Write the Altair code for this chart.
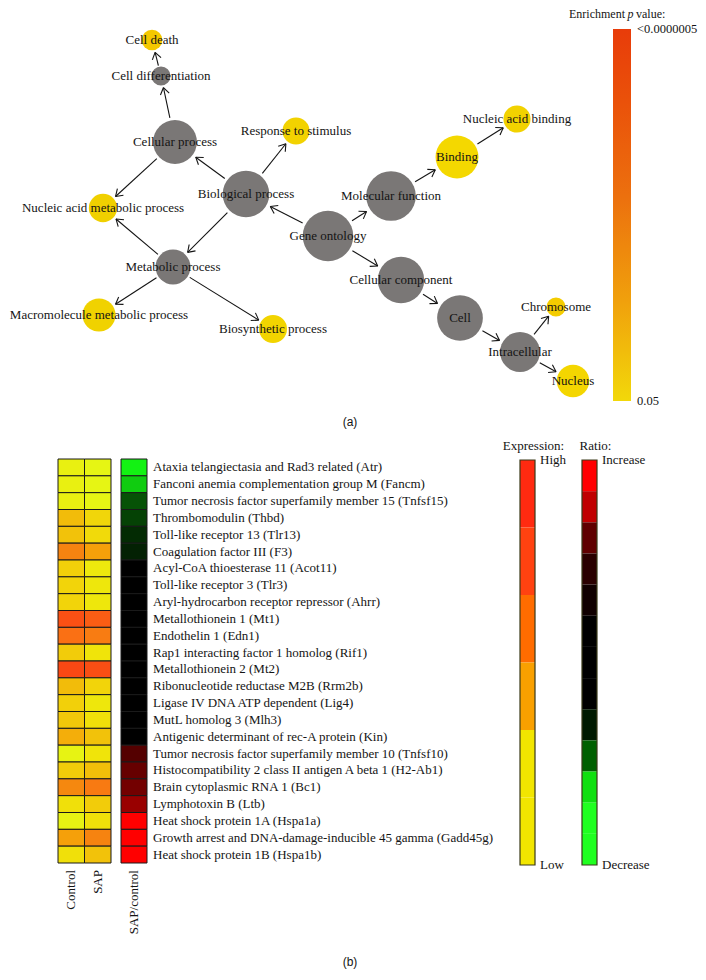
import math
import altair as alt
import pandas as pd

SERIF = "Liberation Serif"
INK = "#141414"

# ---------------- (a) GO network data ----------------
node_names = ["Gene ontology", "Biological process", "Molecular function", "Cellular component",
              "Cellular process", "Response to stimulus", "Metabolic process", "Cell differentiation",
              "Cell death", "Nucleic acid metabolic process", "Macromolecule metabolic process",
              "Biosynthetic process", "Binding", "Nucleic acid binding", "Cell", "Intracellular",
              "Chromosome", "Nucleus"]
node_x = [328, 246, 391, 401, 175, 296, 173, 161, 152, 103, 99, 273, 457, 517, 460, 520, 556, 573]
node_y = [236, 194, 196, 280, 142, 131, 267, 76, 40, 208, 315, 329, 157, 119, 318, 352, 307, 381]
node_r = [28.5, 26.3, 28, 26.2, 24.7, 15.3, 19.7, 10.8, 11.7, 16, 18.7, 15.8, 24.2, 15.3, 25.8, 22.5, 10.8, 18.3]
node_fill = ["#7a7776", "#7a7776", "#7a7776", "#7a7776", "#7a7776", "#f2d200", "#7a7776", "#7a7776",
             "#f4c800", "#f0d000", "#f0d200", "#f2d400", "#f4d800", "#f2d200", "#7a7776", "#7a7776",
             "#f4cc00", "#f4d600"]
edges = [("Gene ontology", "Biological process"), ("Gene ontology", "Molecular function"),
         ("Gene ontology", "Cellular component"), ("Biological process", "Cellular process"),
         ("Biological process", "Response to stimulus"), ("Biological process", "Metabolic process"),
         ("Cellular process", "Cell differentiation"), ("Cell differentiation", "Cell death"),
         ("Cellular process", "Nucleic acid metabolic process"),
         ("Metabolic process", "Nucleic acid metabolic process"),
         ("Metabolic process", "Macromolecule metabolic process"),
         ("Metabolic process", "Biosynthetic process"), ("Molecular function", "Binding"),
         ("Binding", "Nucleic acid binding"), ("Cellular component", "Cell"),
         ("Cell", "Intracellular"), ("Intracellular", "Chromosome"), ("Intracellular", "Nucleus")]
panel_text = ["(a)", "(b)"]
panel_x = [350, 350]
panel_y = [422, 962]

# p-value legend
p_ends = [5e-7, 0.05]
p_labels = ["<0.0000005", "0.05"]

# ---------------- (b) heatmap data ----------------
genes = ["Ataxia telangiectasia and Rad3 related (Atr)",
         "Fanconi anemia complementation group M (Fancm)",
         "Tumor necrosis factor superfamily member 15 (Tnfsf15)",
         "Thrombomodulin (Thbd)",
         "Toll-like receptor 13 (Tlr13)",
         "Coagulation factor III (F3)",
         "Acyl-CoA thioesterase 11 (Acot11)",
         "Toll-like receptor 3 (Tlr3)",
         "Aryl-hydrocarbon receptor repressor (Ahrr)",
         "Metallothionein 1 (Mt1)",
         "Endothelin 1 (Edn1)",
         "Rap1 interacting factor 1 homolog (Rif1)",
         "Metallothionein 2 (Mt2)",
         "Ribonucleotide reductase M2B (Rrm2b)",
         "Ligase IV DNA ATP dependent (Lig4)",
         "MutL homolog 3 (Mlh3)",
         "Antigenic determinant of rec-A protein (Kin)",
         "Tumor necrosis factor superfamily member 10 (Tnfsf10)",
         "Histocompatibility 2 class II antigen A beta 1 (H2-Ab1)",
         "Brain cytoplasmic RNA 1 (Bc1)",
         "Lymphotoxin B (Ltb)",
         "Heat shock protein 1A (Hspa1a)",
         "Growth arrest and DNA-damage-inducible 45 gamma (Gadd45g)",
         "Heat shock protein 1B (Hspa1b)"]
control = [0.03, 0.03, 0.03, 0.30, 0.27, 0.52, 0.20, 0.18, 0.18, 0.74, 0.60, 0.22,
           0.78, 0.30, 0.20, 0.24, 0.35, 0.01, 0.22, 0.50, 0.12, 0.01, 0.40, 0.12]
sap = [0.00, 0.00, 0.00, 0.17, 0.15, 0.40, 0.07, 0.08, 0.08, 0.68, 0.55, 0.10,
       0.75, 0.18, 0.08, 0.12, 0.27, 0.10, 0.29, 0.56, 0.22, 0.12, 0.52, 0.27]
ratio = [-0.95, -0.80, -0.32, -0.26, -0.17, -0.13, 0, 0, 0, 0, 0, 0,
         0, 0, 0, 0, 0, 0.33, 0.40, 0.45, 0.60, 1.0, 1.0, 1.0]
expr_cols = ["Control", "SAP"]
ratio_cols = ["SAP/control"]

expr_domain = [0, 0.1, 0.2, 0.3, 0.4, 0.5, 0.6, 0.7, 0.8]
expr_range = ["#e6f514", "#f0e40a", "#f2d00a", "#f2bc0a", "#f5a00a", "#f5880f", "#fa7014", "#fa5814", "#fa4414"]
ratio_domain = [-1, 0, 1]
ratio_range = ["#14ff14", "#000000", "#ff0000"]

expression_legend = ["#ff2a10", "#ff4210", "#ff6c00", "#f9a000", "#f2e600", "#f2e600"]
ratio_legend = ["#ff0000", "#c00000", "#600000", "#2a0000", "#100000", "#000000", "#000000",
                "#000000", "#001a00", "#006000", "#10e010", "#20ff20", "#20ff20"]

# ---------------- derived tables ----------------
nodes = pd.DataFrame({"name": node_names, "x": node_x, "y": node_y, "r": node_r, "fill": node_fill})
nodes["area"] = math.pi * nodes["r"] ** 2
pos = {n: (x, y, r) for n, x, y, r in zip(node_names, node_x, node_y, node_r)}

segs = []
for s, t in edges:
    xs, ys, rs = pos[s]
    xt, yt, rt = pos[t]
    d = math.hypot(xt - xs, yt - ys)
    ux, uy = (xt - xs) / d, (yt - ys) / d
    x1, y1 = xs + ux * rs, ys + uy * rs
    x2, y2 = xt - ux * (rt + 1), yt - uy * (rt + 1)
    segs.append((x1, y1, x2, y2))
    L, a = 8.0, math.radians(34)
    for sgn in (1, -1):
        ca, sa = math.cos(a), math.sin(a) * sgn
        bx = ux * ca - uy * sa
        by = uy * ca + ux * sa
        segs.append((x2, y2, x2 - L * bx, y2 - L * by))
seg_df = pd.DataFrame(segs, columns=["x", "y", "x2", "y2"])
panel_df = pd.DataFrame({"text": panel_text, "x": panel_x, "y": panel_y})

NX = alt.Scale(domain=[0, 706], range=[-8, 698])
NY = alt.Scale(domain=[0, 980], range=[-8, 972])

edges_layer = alt.Chart(seg_df).mark_rule(color=INK, strokeWidth=1.1).encode(
    x=alt.X("x:Q", scale=NX, axis=None), y=alt.Y("y:Q", scale=NY, axis=None),
    x2="x2:Q", y2="y2:Q")
nodes_layer = alt.Chart(nodes).mark_circle(opacity=1).encode(
    x=alt.X("x:Q", scale=NX, axis=None), y=alt.Y("y:Q", scale=NY, axis=None),
    size=alt.Size("area:Q", scale=None, legend=None),
    color=alt.Color("fill:N", scale=None, legend=None))
labels_layer = alt.Chart(nodes).mark_text(font=SERIF, fontSize=13, color=INK, baseline="middle").encode(
    x=alt.X("x:Q", scale=NX, axis=None), y=alt.Y("y:Q", scale=NY, axis=None), text="name:N")
panel_layer = alt.Chart(panel_df).mark_text(font="Liberation Sans", fontSize=12, color=INK, baseline="middle").encode(
    x=alt.X("x:Q", scale=NX, axis=None), y=alt.Y("y:Q", scale=NY, axis=None), text="text:N")
network = alt.layer(edges_layer, nodes_layer, labels_layer, panel_layer)

# p-value gradient legend
PX = alt.Scale(domain=[0, 1], range=[605, 623])
PY = alt.Scale(type="log", domain=p_ends, range=[21, 393], nice=False)
pbar_df = pd.DataFrame({"x0": [0], "x1": [1], "p0": [p_ends[0]], "p1": [p_ends[1]]})
grad = alt.Gradient(gradient="linear", x1=0, x2=0, y1=0, y2=1, stops=[
    alt.GradientStop(color="#e83c0a", offset=0), alt.GradientStop(color="#ea520a", offset=0.2),
    alt.GradientStop(color="#ec700e", offset=0.45), alt.GradientStop(color="#f0a00c", offset=0.73),
    alt.GradientStop(color="#f2d80a", offset=1)])
pbar = alt.Chart(pbar_df).mark_rect(fill=grad).encode(
    x=alt.X("x0:Q", scale=PX, axis=None), x2="x1:Q",
    y=alt.Y("p0:Q", scale=PY, axis=None), y2="p1:Q")
plab_df = pd.DataFrame({"p": p_ends, "text": p_labels, "x": [1, 1]})
plab = alt.Chart(plab_df).mark_text(font=SERIF, fontSize=12.5, color=INK, align="left", baseline="middle", dx=6).encode(
    x=alt.X("x:Q", scale=PX, axis=None), y=alt.Y("p:Q", scale=PY, axis=None), text="text:N")
ptitle_df = pd.DataFrame({"x": [0.5], "p": [p_ends[0]]})


def ptitle(txt, align, dx, style="normal"):
    return alt.Chart(ptitle_df).mark_text(font=SERIF, fontSize=12, color=INK, align=align,
                                          baseline="alphabetic", dy=-11, dx=dx, fontStyle=style, text=txt).encode(
        x=alt.X("x:Q", scale=PX, axis=None), y=alt.Y("p:Q", scale=PY, axis=None))


plegend = alt.layer(pbar, plab, ptitle("Enrichment", "right", 3), ptitle("p", "center", 8.5, "italic"),
                    ptitle("value:", "left", 14))

# ---------------- (b) heatmap ----------------
GY = alt.Scale(domain=genes, range=[451, 855], paddingInner=0, paddingOuter=0)
EX = alt.Scale(domain=expr_cols, range=[50, 103], paddingInner=0, paddingOuter=0)
RX = alt.Scale(domain=ratio_cols, range=[113, 139], paddingInner=0, paddingOuter=0)

expr_df = pd.DataFrame({"gene": genes * 2, "column": ["Control"] * len(genes) + ["SAP"] * len(genes),
                        "expression": control + sap})
ratio_df = pd.DataFrame({"gene": genes, "column": ["SAP/control"] * len(genes), "log_ratio": ratio})

expr_rect = alt.Chart(expr_df).mark_rect(stroke="#1a1a1a", strokeWidth=1).encode(
    x=alt.X("column:N", scale=EX, axis=None), y=alt.Y("gene:N", scale=GY, axis=None),
    fill=alt.Fill("expression:Q", scale=alt.Scale(domain=expr_domain, range=expr_range, interpolate="rgb"),
                  legend=None))
ecol_df = pd.DataFrame({"column": expr_cols, "anchor": [genes[-1]] * 2})
ecol = alt.Chart(ecol_df).mark_text(font=SERIF, fontSize=13, color=INK, angle=270, align="right",
                                    baseline="middle", dx=-7).encode(
    x=alt.X("column:N", scale=EX, axis=None),
    y=alt.Y("anchor:N", scale=GY, axis=None, bandPosition=1), text="column:N")
expr_heat = alt.layer(expr_rect, ecol)

ratio_rect = alt.Chart(ratio_df).mark_rect(stroke="#1a1a1a", strokeWidth=1).encode(
    x=alt.X("column:N", scale=RX, axis=None), y=alt.Y("gene:N", scale=GY, axis=None),
    color=alt.Color("log_ratio:Q", scale=alt.Scale(domain=ratio_domain, range=ratio_range, interpolate="rgb"),
                    legend=None))
gene_text = alt.Chart(ratio_df).mark_text(font=SERIF, fontSize=13, color=INK, align="left",
                                          baseline="middle", dx=6).encode(
    x=alt.X("column:N", scale=RX, axis=None, bandPosition=1),
    y=alt.Y("gene:N", scale=GY, axis=None), text="gene:N")
rcol_df = pd.DataFrame({"column": ratio_cols, "anchor": [genes[-1]]})
rcol = alt.Chart(rcol_df).mark_text(font=SERIF, fontSize=13, color=INK, angle=270, align="right",
                                    baseline="middle", dx=-7).encode(
    x=alt.X("column:N", scale=RX, axis=None),
    y=alt.Y("anchor:N", scale=GY, axis=None, bandPosition=1), text="column:N")
ratio_heat = alt.layer(ratio_rect, gene_text, rcol)

# discrete legends
LX = alt.Scale(domain=["Expression", "Ratio"], range=[512, 589], paddingInner=0.758, paddingOuter=0)
LY = alt.Scale(domain=[0, 1], range=[452, 857])
band_rows = []
for name, cols in (("Expression", expression_legend), ("Ratio", ratio_legend)):
    n = len(cols)
    for k, c in enumerate(cols):
        band_rows.append({"legend": name, "y0": k / n, "y1": (k + 1) / n, "band_color": c})
band_df = pd.DataFrame(band_rows)
bands = alt.Chart(band_df).mark_rect().encode(
    x=alt.X("legend:N", scale=LX, axis=None), y=alt.Y("y0:Q", scale=LY, axis=None), y2="y1:Q",
    fill=alt.Fill("band_color:N", scale=None, legend=None))
outline_df = pd.DataFrame({"legend": ["Expression", "Ratio"], "y0": [0, 0], "y1": [1, 1]})
outline = alt.Chart(outline_df).mark_rect(fillOpacity=0, stroke="#3a3a1a", strokeWidth=1.2).encode(
    x=alt.X("legend:N", scale=LX, axis=None), y=alt.Y("y0:Q", scale=LY, axis=None), y2="y1:Q")
ltext_df = pd.DataFrame({"legend": ["Expression", "Expression", "Ratio", "Ratio"],
                         "y": [0, 1, 0, 1], "text": ["High", "Low", "Increase", "Decrease"]})
ltext = alt.Chart(ltext_df).mark_text(font=SERIF, fontSize=13, color=INK, align="left",
                                      baseline="middle", dx=5).encode(
    x=alt.X("legend:N", scale=LX, axis=None, bandPosition=1), y=alt.Y("y:Q", scale=LY, axis=None),
    text="text:N")
ltitle_df = pd.DataFrame({"legend": ["Expression", "Ratio"], "y": [0, 0], "text": ["Expression:", "Ratio:"]})
ltitle = alt.Chart(ltitle_df).mark_text(font=SERIF, fontSize=13, color=INK, align="center",
                                        baseline="alphabetic", dy=-10, dx=-1.5).encode(
    x=alt.X("legend:N", scale=LX, axis=None, bandPosition=1), y=alt.Y("y:Q", scale=LY, axis=None),
    text="text:N")
legends = alt.layer(bands, outline, ltext, ltitle)

chart = alt.layer(network, plegend, expr_heat, ratio_heat, legends).resolve_scale(
    x="independent", y="independent", color="independent", fill="independent"
).properties(
    width=690, height=964, padding=0, autosize=alt.AutoSizeParams(type="none")
).configure_view(strokeWidth=0)

chart.save("out.html", embed_options={"renderer": "svg", "actions": False})
